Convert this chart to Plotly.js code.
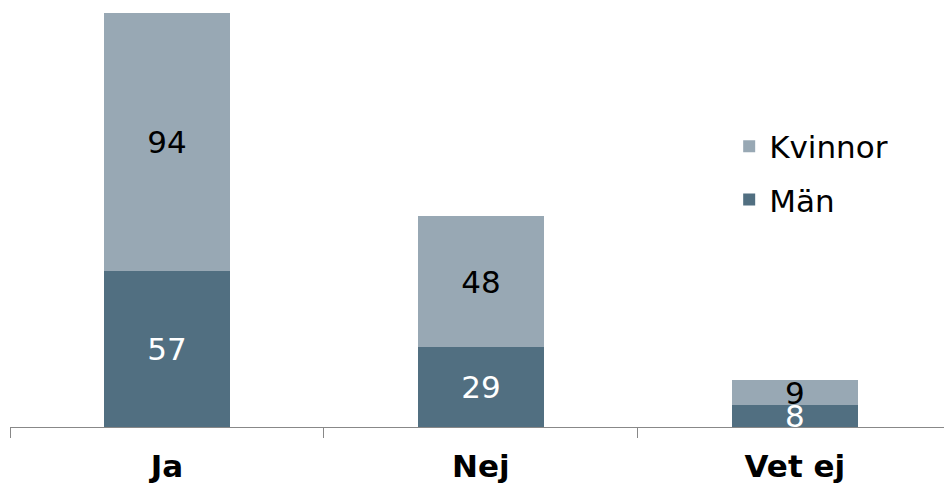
<!DOCTYPE html>
<html><head><meta charset="utf-8">
<script src="https://cdn.plot.ly/plotly-3.0.1.min.js"></script>
<style>html,body{margin:0;padding:0;background:#fff;}#chart{width:944px;height:484px;}</style>
</head><body><div id="chart"></div>
<script>
var categories = ['Ja', 'Nej', 'Vet ej'];
var manValues = [57, 29, 8];
var kvinnorValues = [94, 48, 9];
var seriesNames = ['Män', 'Kvinnor'];

var font = 'DejaVu Sans, Verdana, sans-serif';
var traces = [
  {type:'bar', name:seriesNames[0], legendgroup:'m', legendrank:2, x:categories, y:manValues, text:manValues.map(String),
   textposition:'inside', insidetextanchor:'middle', textangle:0,
   textfont:{family:font, size:31, color:'#ffffff'},
   marker:{color:'#516f81'}, width:0.4, hoverinfo:'none'},
  {type:'bar', name:seriesNames[1], legendgroup:'k', legendrank:1, x:categories, y:kvinnorValues, text:kvinnorValues.map(String),
   textposition:'inside', insidetextanchor:'middle', textangle:0,
   textfont:{family:font, size:31, color:'#000000'},
   marker:{color:'#98a8b4'}, width:0.4, hoverinfo:'none'}
];
var layout = {
  width:944, height:484,
  margin:{l:10, r:0, t:0, b:57},
  barmode:'stack',
  paper_bgcolor:'#fff', plot_bgcolor:'#fff',
  uniformtext:{mode:'show', minsize:31},
  xaxis:{type:'category', range:[-0.5, 2.475], showline:true, linecolor:'#888', linewidth:1,
    ticks:'outside', tickson:'boundaries', ticklen:10, tickcolor:'#888', ticklabelstandoff:12,
    tickfont:{family:font, size:31, color:'#000', weight:'bold'}, showgrid:false, zeroline:false},
  yaxis:{range:[0, 155.7], visible:false, showgrid:false, zeroline:false},
  legend:{x:0.77, y:0.72, xanchor:'left', yanchor:'top', traceorder:'grouped',
    font:{family:font, size:31, color:'#000'}, itemwidth:30, tracegroupgap:10},
  showlegend:true
};
Plotly.newPlot('chart', traces, layout, {staticPlot:true, displayModeBar:false});
</script></body></html>
